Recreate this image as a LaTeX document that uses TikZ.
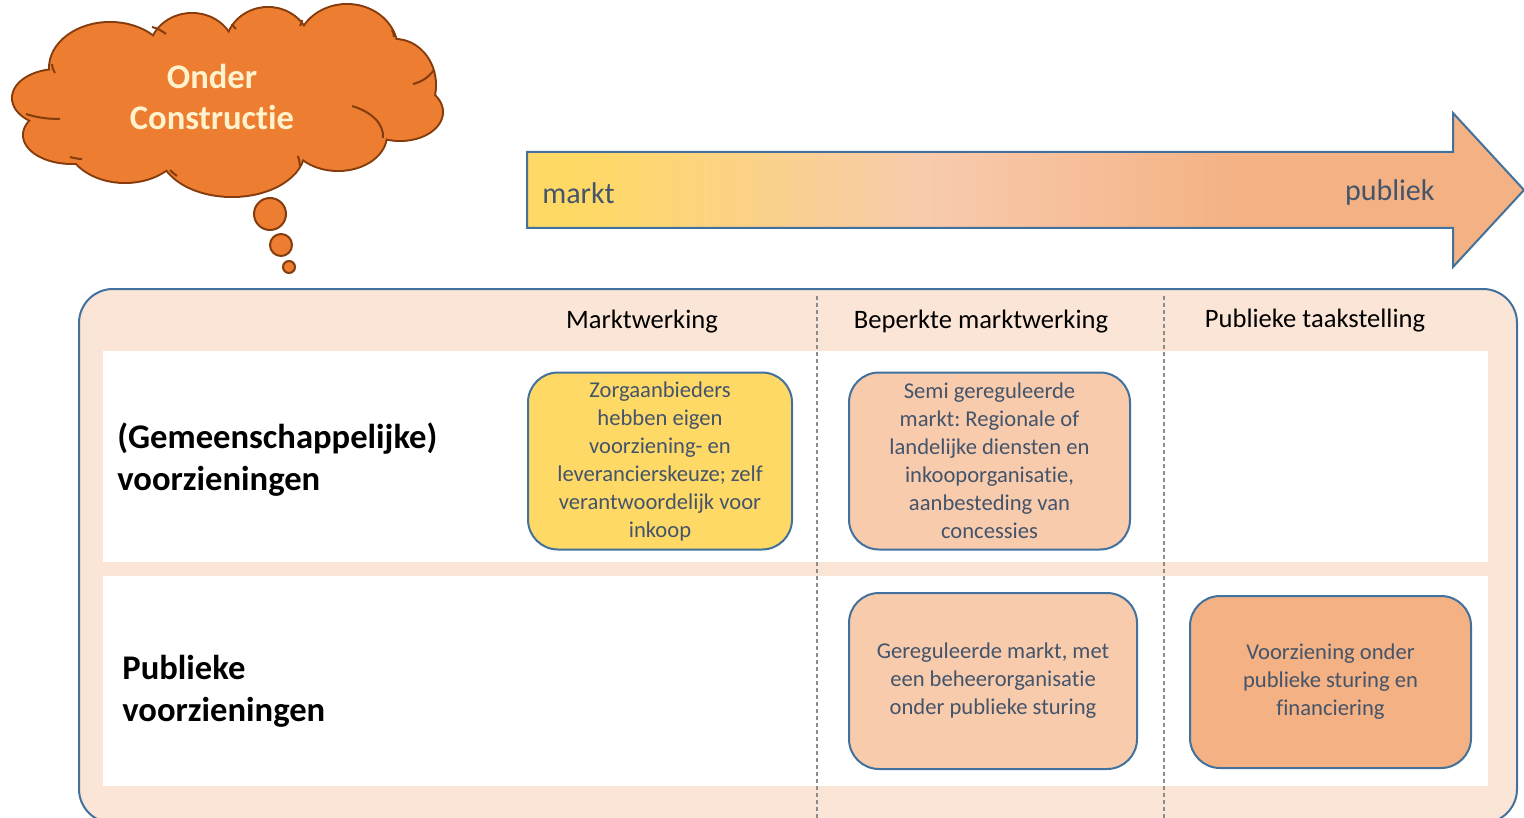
\documentclass[tikz,border=0pt]{standalone}
\usepackage{fontspec}
\setmainfont{Carlito}[Ligatures=NoCommon]
\frenchspacing
\definecolor{frameblue}{HTML}{41719C}
\definecolor{pinkbg}{HTML}{FBE5D6}
\definecolor{yel}{HTML}{FFD966}
\definecolor{peach}{HTML}{F8CBAD}
\definecolor{orng}{HTML}{F4B183}
\definecolor{cloudor}{HTML}{ED7D31}
\definecolor{cloudline}{HTML}{843C0C}
\definecolor{cloudtxt}{HTML}{FFF2CC}
\definecolor{slate}{HTML}{44546A}
\definecolor{dashgray}{HTML}{8C8C8C}
\pgfdeclarehorizontalshading{mktshade}{100bp}{color(0bp)=(yel); color(28bp)=(yel); color(45bp)=(peach); color(61bp)=(orng); color(100bp)=(orng)}
\tikzset{
  hdr/.style={inner sep=0pt, text=black, font=\fontsize{13.3}{16}\selectfont},
  rowlbl/.style={inner sep=0pt, anchor=west, align=left, text=black, font=\bfseries\fontsize{17.3}{21}\selectfont},
  mbox/.style={draw=frameblue, line width=1pt, rounded corners=15pt, inner sep=0pt, align=center, text=slate, font=\fontsize{11.3}{14}\selectfont},
  arrowlbl/.style={inner sep=0pt, text=slate, font=\fontsize{15}{18}\selectfont},
  divider/.style={dashgray, line width=0.6pt, dash pattern=on 2pt off 1.5pt},
  cloudedge/.style={cloudline, line width=1pt}
}
\begin{document}
\begin{tikzpicture}[x=0.5pt, y=-0.5pt]
\useasboundingbox (0,0) rectangle (1524,818);
\clip (0,0) rectangle (1524,818);

% frame
\draw[frameblue, fill=pinkbg, line width=1pt, rounded corners=17pt] (79,289) rectangle (1517,823);
\fill[white] (103,351) rectangle (1488,562);
\fill[white] (103,576) rectangle (1488,786);
\draw[divider] (817,296) -- (817,818);
\draw[divider] (1164,296) -- (1164,818);

% headers
\node[hdr] (h1) at (642,322) {Marktwerking};
\node[hdr] (h2) at (981,322) {Beperkte marktwerking};
\node[hdr] (h3) at (1315,321) {Publieke taakstelling};

% row labels
\node[rowlbl] (r1) at (117,460) {(Gemeenschappelijke)\\voorzieningen};
\node[rowlbl] (r2) at (122,691) {Publieke\\voorzieningen};

% boxes
\node[mbox, fill=yel, minimum width=132pt, minimum height=88.5pt] (b1) at (660,461)
  {Zorgaanbieders\\hebben eigen\\voorziening- en\\leverancierskeuze; zelf\\verantwoordelijk voor\\inkoop};
\node[mbox, fill=peach, minimum width=140.5pt, minimum height=88.5pt] (b2) at (989.5,461)
  {Semi gereguleerde\\markt: Regionale of\\landelijke diensten en\\inkooporganisatie,\\aanbesteding van\\concessies};
\node[mbox, fill=peach, minimum width=144pt, minimum height=88pt] (b3) at (993,681)
  {Gereguleerde markt, met\\een beheerorganisatie\\onder publieke sturing};
\node[mbox, fill=orng, minimum width=140.5pt, minimum height=86pt] (b4) at (1330.5,682)
  {Voorziening onder\\publieke sturing en\\financiering};

% arrow
\draw[frameblue, line width=1pt, line join=miter, shading=mktshade]
  (527,152) -- (1453,152) -- (1453,113) -- (1524,190) -- (1453,267) -- (1453,228) -- (527,228) -- cycle;
\node[arrowlbl, anchor=west] (markt) at (542,193) {markt};
\node[arrowlbl, anchor=east] (publiek) at (1435,193) {publiek};

% cloud
\def\lobes{58/98/45/28, 72/135/48/28, 110/68/60/45, 192/52/42/38, 268/48/42/40, 347/50/50/45, 395/85/40/45, 400/112/42/28, 338/135/48/35, 232/150/72/46, 125/140/58/42, 230/100/160/65}
\foreach \cx/\cy/\rx/\ry in \lobes
  \draw[cloudline, line width=2pt] (\cx,\cy) ellipse [x radius=\rx, y radius=\ry];
\foreach \cx/\cy/\rx/\ry in \lobes
  \fill[cloudor] (\cx,\cy) ellipse [x radius=\rx, y radius=\ry];
\draw[cloudedge] (352,106) .. controls (372,112) and (384,124) .. (383,138);
\draw[cloudedge] (434,70) .. controls (428,78) and (421,82) .. (413,84);
\draw[cloudedge] (26,114) .. controls (38,118) and (50,119) .. (60,119);
\draw[cloudedge] (52,64) .. controls (52,67) and (53,70) .. (55,73);
\draw[cloudedge] (152,27) .. controls (157,28) and (162,31) .. (166,34);
\draw[cloudedge] (232,24) .. controls (233,26) and (234,27) .. (236,29);
\draw[cloudedge] (302,20) .. controls (302,22) and (301,24) .. (300,26);
\draw[cloudedge] (392,30) .. controls (393,32) and (394,34) .. (394,37);
\draw[cloudedge] (298,156) .. controls (299,160) and (300,163) .. (300,166);
\draw[cloudedge] (170,170) .. controls (172,172) and (174,174) .. (177,176);
\draw[cloudedge] (70,157) .. controls (74,158) and (78,159) .. (82,159);
\draw[cloudedge, fill=cloudor] (270,214) circle [radius=16];
\draw[cloudedge, fill=cloudor] (281,245) circle [radius=11];
\draw[cloudedge, fill=cloudor] (289,267) circle [radius=6];
\node[inner sep=0pt, align=center, text=cloudtxt, font=\bfseries\fontsize{17.3}{20.5}\selectfont] (cloudtext) at (212,97) {Onder\\Constructie};
\end{tikzpicture}
\end{document}
